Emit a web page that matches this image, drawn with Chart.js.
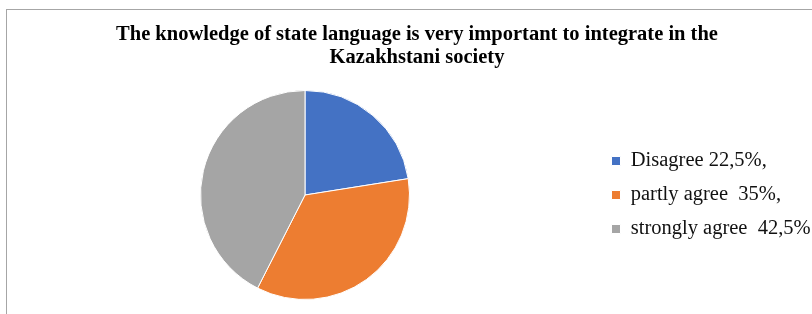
<!DOCTYPE html>
<html>
<head>
<meta charset="utf-8">
<script src="https://cdn.jsdelivr.net/npm/chart.js@4.4.0/dist/chart.umd.min.js"></script>
<style>
  html, body { margin: 0; padding: 0; background: #fff; overflow: hidden; }
  body { width: 812px; height: 314px; position: relative; }
  #frame {
    position: absolute; left: 6px; top: 9px;
    width: 840px; height: 340px;
    border: 1px solid #a6a6a6;
  }
  #wrap { position: absolute; left: 0; top: 0; width: 834px; height: 314px; }
</style>
</head>
<body>
<div id="frame"></div>
<div id="wrap"><canvas id="pie" width="834" height="314"></canvas></div>
<script>
const titleLines = [
  "The knowledge of state language is very important to integrate in the",
  "Kazakhstani society"
];
const labels = ["Disagree 22,5%,", "partly agree  35%,", "strongly agree  42,5%"];
const values = [22.5, 35, 42.5];
const colors = ["#4472C4", "#ED7D31", "#A5A5A5"];

const serif = "'Liberation Serif', 'Times New Roman', serif";

// the legend in the original sits further from the pie than its text needs
const legendWidth = {
  id: "legendWidth",
  beforeInit(chart) {
    const legend = chart.legend;
    if (!legend) return;
    const fit = legend.fit;
    legend.fit = function () {
      fit.call(this);
      this.width = Math.max(this.width, 224);
    };
  }
};

const ctx = document.getElementById("pie").getContext("2d");

new Chart(ctx, {
  type: "pie",
  data: {
    labels,
    datasets: [{
      data: values,
      backgroundColor: colors,
      borderColor: "#ffffff",
      borderWidth: 1
    }]
  },
  options: {
    responsive: false,
    animation: false,
    layout: {
      padding: { left: 12, right: 12, top: 0, bottom: 14 }
    },
    plugins: {
      title: {
        display: true,
        text: titleLines,
        color: "#000",
        font: { family: serif, size: 20.5, weight: "bold", lineHeight: 1.122 },
        padding: { top: 23, bottom: 21 }
      },
      legend: {
        position: "right",
        fullSize: false,
        labels: {
          color: "#111",
          boxWidth: 9,
          boxHeight: 9,
          padding: 13.5,
          font: { family: serif, size: 20.5 }
        }
      },
      tooltip: { enabled: false }
    }
  },
  plugins: [legendWidth]
});
</script>
</body>
</html>
